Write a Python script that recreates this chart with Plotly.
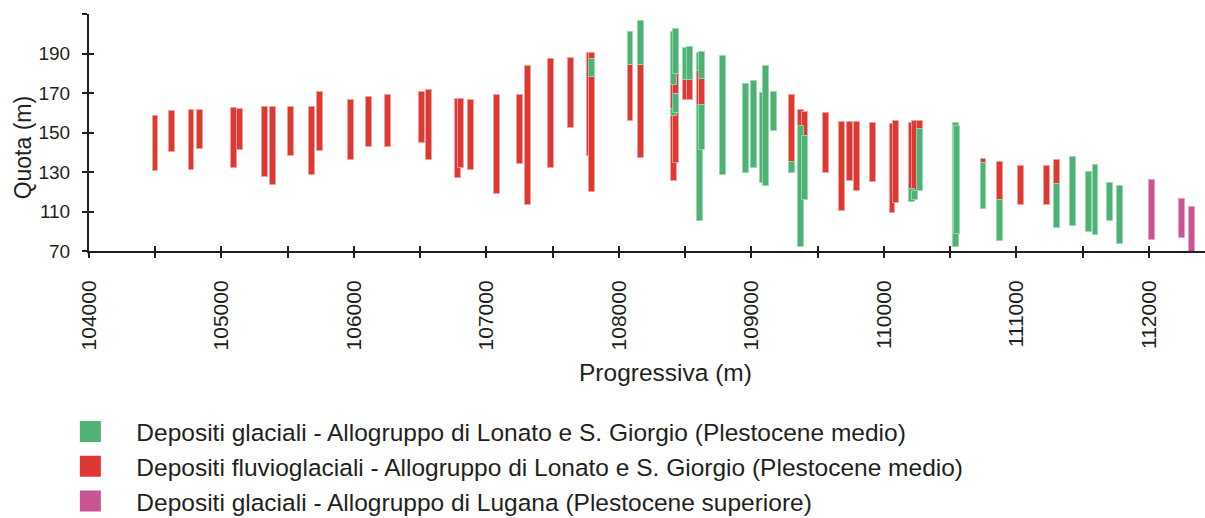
import plotly.graph_objects as go

# ---------------- data ----------------
categories = [
    "Depositi glaciali - Allogruppo di Lonato e S. Giorgio (Plestocene medio)",
    "Depositi fluvioglaciali - Allogruppo di Lonato e S. Giorgio (Plestocene medio)",
    "Depositi glaciali - Allogruppo di Lugana (Plestocene superiore)",
]
x_title = "Progressiva (m)"
y_title = "Quota (m)"

# fluvioglacial (red) segments: progressive, bottom, top
red_x = [104502, 104629, 104774, 104836, 105093, 105138, 105327, 105389, 105526, 105683,
         105745, 105976, 106113, 106259, 106515, 106564, 106787, 106806, 106883, 107079,
         107253, 107315, 107487, 107635, 107777, 107794, 107794, 108087, 108164, 108416,
         108416, 108430, 108430, 108507, 108536, 108613, 108628, 109303, 109376, 109402,
         109563, 109681, 109745, 109794, 109918, 110064, 110089, 110210, 110236, 110272,
         110751, 110874, 111035, 111228, 111304]
red_bottom = [130.4, 140.2, 131.1, 141.7, 131.9, 141.2, 127.7, 123.2, 138.0, 128.7,
              140.5, 136.0, 142.5, 142.5, 144.9, 136.0, 127.2, 131.8, 130.9, 118.8,
              133.8, 113.2, 131.8, 152.3, 138.0, 119.8, 187.0, 155.7, 137.0, 125.4,
              161.7, 134.6, 169.6, 166.3, 166.3, 163.7, 163.7, 135.1, 153.1, 148.4,
              129.5, 110.5, 125.6, 120.5, 124.7, 109.2, 114.1, 121.3, 120.3, 151.6,
              134.4, 115.6, 113.2, 113.2, 123.8]
red_top = [158.2, 160.7, 161.6, 161.6, 162.4, 161.7, 162.9, 162.9, 162.9, 162.9,
           170.5, 166.3, 167.9, 168.8, 170.3, 171.3, 167.1, 167.1, 166.3, 168.8,
           169.0, 183.6, 187.0, 187.5, 190.4, 177.9, 190.4, 184.4, 184.4, 158.2,
           174.3, 159.8, 179.7, 176.4, 176.4, 181.1, 176.9, 169.0, 161.5, 160.6,
           159.7, 155.5, 155.5, 155.5, 154.9, 154.1, 155.7, 154.9, 155.7, 155.7,
           136.8, 135.1, 132.8, 132.8, 136.0]

# glacial Lonato (green) segments
green_x = [107794, 108087, 108164, 108416, 108416, 108430, 108430, 108507, 108536, 108613,
           108613, 108628, 108628, 108786, 108960, 109020, 109090, 109107, 109168, 109303,
           109376, 109402, 110210, 110236, 110272, 110542, 110553, 110751, 110874, 111304,
           111425, 111549, 111596, 111707, 111783]
green_bottom = [177.9, 184.4, 184.4, 174.3, 158.2, 179.7, 159.8, 176.4, 176.4, 105.0,
                181.1, 141.2, 176.9, 128.6, 129.4, 131.9, 124.3, 123.0, 151.0, 129.5,
                91.9, 115.8, 114.7, 115.6, 120.3, 91.9, 98.4, 111.4, 95.2, 101.6,
                102.9, 99.7, 98.2, 105.0, 93.4]
green_top = [187.0, 200.9, 206.5, 201.1, 161.7, 202.4, 169.6, 192.7, 193.5, 163.7,
             190.2, 163.7, 190.9, 188.5, 174.5, 176.2, 169.8, 183.6, 170.3, 135.1,
             153.1, 148.4, 121.3, 120.3, 151.6, 154.9, 153.1, 134.4, 115.6, 123.8,
             137.6, 130.2, 133.6, 124.5, 122.8]

# glacial Lugana (pink) segments
pink_x = [112026, 112247, 112322]
pink_bottom = [95.7, 96.6, 87.6]
pink_top = [126.2, 116.4, 112.2]

x_tickvals = list(range(104000, 112001, 500))
x_ticktext = [str(v) if v % 1000 == 0 else "" for v in x_tickvals]
y_tickvals = [90, 110, 130, 150, 170, 190, 210]
y_ticktext = ["70", "110", "130", "150", "170", "190", ""]

# ---------------- styling ----------------
fills = ["#4DB273", "#DD3832", "#C85492"]
edges = ["rgba(150,215,175,0.9)", "rgba(240,160,155,0.9)", "rgba(230,160,200,0.9)"]
AX = "#231F20"
FONT = "Arial, Liberation Sans, sans-serif"
X_RANGE = [104000, 112423]
Y_RANGE = [90, 210]

fig = go.Figure()
series = [(green_x, green_bottom, green_top), (red_x, red_bottom, red_top),
          (pink_x, pink_bottom, pink_top)]
draw_order = [1, 0, 2]
for i in draw_order:
    xs, bs, ts = series[i]
    fig.add_trace(go.Bar(
        x=xs, base=bs, y=[t - b for b, t in zip(bs, ts)],
        width=44, marker=dict(color=fills[i], line=dict(color=edges[i], width=1)),
        showlegend=False, hoverinfo="skip", name=categories[i]))

for i, name in enumerate(categories):
    fig.add_trace(go.Scatter(
        x=[None], y=[None], mode="markers", name=name,
        marker=dict(symbol="square", size=16, color=fills[i],
                    line=dict(color=fills[i], width=5))))

# dummy trace to host the overlaying tick axes
fig.add_trace(go.Scatter(x=[None], y=[None], xaxis="x2", yaxis="y2",
                         showlegend=False, hoverinfo="skip"))

fig.update_layout(
    width=1205, height=518,
    margin=dict(l=89, r=0, t=13.5, b=267),
    paper_bgcolor="white", plot_bgcolor="white",
    barmode="overlay", bargap=0,
    font=dict(family=FONT, color=AX),
    xaxis=dict(range=X_RANGE, tickmode="array", tickvals=x_tickvals, ticktext=x_ticktext,
               tickangle=-90, ticks="outside", ticklen=5, tickwidth=2, tickcolor=AX,
               showline=True, linewidth=2, linecolor=AX, showgrid=False, zeroline=False,
               tickfont=dict(size=21, color=AX), ticklabelstandoff=14),
    yaxis=dict(range=Y_RANGE, tickmode="array", tickvals=y_tickvals, ticktext=y_ticktext,
               ticks="outside", ticklen=5, tickwidth=2, tickcolor=AX,
               showline=True, linewidth=2, linecolor=AX, showgrid=False, zeroline=False,
               tickfont=dict(size=19, color=AX), ticklabelstandoff=8),
    xaxis2=dict(range=X_RANGE, overlaying="x", anchor="y", side="bottom",
                tickmode="array", tickvals=x_tickvals, ticks="inside", ticklen=5,
                tickwidth=2, tickcolor=AX, showticklabels=False, showline=False,
                showgrid=False, zeroline=False),
    yaxis2=dict(range=Y_RANGE, overlaying="y", anchor="x", side="left",
                tickmode="array", tickvals=y_tickvals, ticks="inside", ticklen=5,
                tickwidth=2, tickcolor=AX, showticklabels=False, showline=False,
                showgrid=False, zeroline=False),
    legend=dict(xref="paper", x=-0.04, xanchor="left",
                yref="container", y=0.2105, yanchor="top",
                orientation="v", traceorder="normal",
                itemwidth=82,
                font=dict(size=24.5, color=AX), bgcolor="rgba(0,0,0,0)",
                itemclick=False, itemdoubleclick=False),
    annotations=[
        dict(text=x_title, xref="paper", yref="paper", x=0.517, y=-0.513,
             xanchor="center", yanchor="middle", showarrow=False,
             font=dict(size=24.5, color=AX)),
        dict(text=y_title, xref="paper", yref="paper", x=-0.059, y=0.438,
             xanchor="center", yanchor="middle", showarrow=False, textangle=-90,
             font=dict(size=23, color=AX)),
    ],
)

fig.write_html("out.html")
